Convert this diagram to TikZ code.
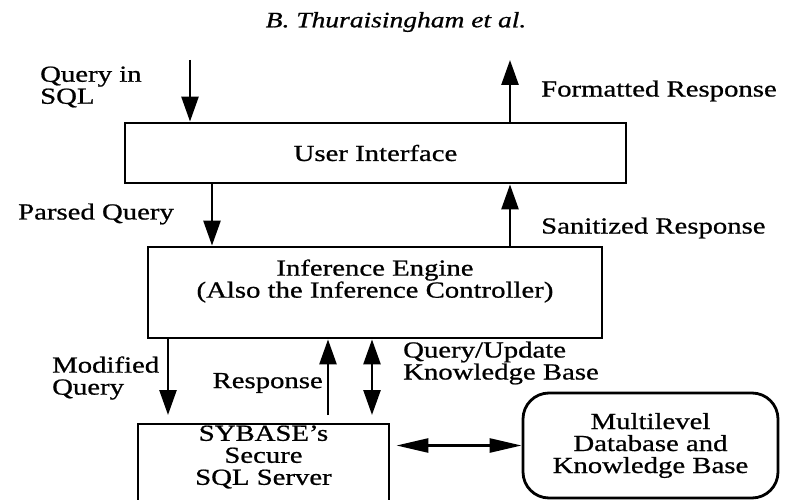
\documentclass[tikz,border=0pt]{standalone}
\usepackage{fontspec}
\setmainfont{Liberation Serif}[FakeStretch=1.25, FakeBold=0.8]
\usetikzlibrary{arrows.meta}
\begin{document}
\begin{tikzpicture}[x=1pt,y=-1pt,
  box/.style={draw, line width=2.8pt, inner sep=0pt},
  txt/.style={font=\fontsize{23}{22}\selectfont, inner sep=0pt},
  lbl/.style={txt, align=left},
  vtip/.tip={Triangle[length=25pt,width=17pt]},
  htip/.tip={Triangle[length=32pt,width=14pt]},
  flow/.style={line width=2.6pt, -vtip},
  both/.style={line width=2.6pt, vtip-vtip},
  hboth/.style={line width=2.6pt, htip-htip}]

\useasboundingbox (0,0) rectangle (789,500);
\clip (0,0) rectangle (789,500);

% running head
\node[font=\fontsize{22}{22}\selectfont\itshape, inner sep=0pt] (head) at (396,22) {B. Thuraisingham et al.};

% boxes
\node[box, txt, minimum width=501pt, minimum height=60pt] (ui) at (375.5,153) {User Interface};
\node[box, minimum width=454pt, minimum height=91pt] (ie) at (375,292.5) {};
\node[txt, align=center] (ietext) at (375,281) {Inference Engine\\(Also the Inference Controller)};
\node[box, minimum width=251pt, minimum height=110pt] (sql) at (263.5,479) {};
\node[txt, align=center] (sqltext) at (263.5,457) {SYBASE's\\Secure\\SQL Server};
\node[box, txt, align=center, rounded corners=26pt, minimum width=255pt, minimum height=105pt] (kb) at (650.5,445.5) {Multilevel\\Database and\\Knowledge Base};

% free ends of the outer arrows
\coordinate (qin) at (190,60);
\coordinate (fout) at (510,60);

% labels
\node[lbl, anchor=west] (lqin) at (40,87) {Query in\\SQL};
\node[lbl, anchor=west] (lfmt) at (541,91) {Formatted Response};
\node[lbl, anchor=west] (lparse) at (18,214) {Parsed Query};
\node[lbl, anchor=west] (lsan) at (541,228) {Sanitized Response};
\node[lbl, anchor=west] (lmod) at (52,378) {Modified\\Query};
\node[lbl, anchor=east] (lresp) at (323,383) {Response};
\node[lbl, anchor=west] (lqu) at (403,363) {Query/Update\\Knowledge Base};

% connectors
\draw[flow] (qin) -- (qin |- ui.north);
\draw[flow] (fout |- ui.north) -- (fout);
\draw[flow] (212,0 |- ui.south) -- (212,0 |- ie.north);
\draw[flow] (510,0 |- ie.north) -- (510,0 |- ui.south);
\coordinate (mq) at (168,415);
\coordinate (rs) at (328,415);
\coordinate (qu) at (372,415);
\draw[flow] (mq |- ie.south) -- (mq);
\draw[flow] (rs) -- (rs |- ie.south);
\draw[both] (qu |- ie.south) -- (qu);
\draw[hboth] ([xshift=6pt]sql.east |- kb.west) -- (kb.west);
\end{tikzpicture}
\end{document}
